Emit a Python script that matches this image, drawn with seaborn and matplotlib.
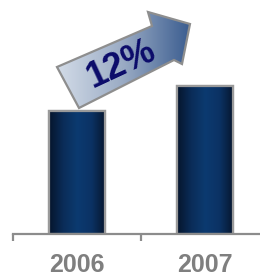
import numpy as np
import pandas as pd
import matplotlib
matplotlib.use("Agg")
import matplotlib.pyplot as plt
from matplotlib.colors import LinearSegmentedColormap
from matplotlib.patches import Polygon
import seaborn as sns

years = ["2006", "2007"]
values = [100, 120]
growth_label = "12%"

sns.set_theme(style="white")
plt.rcParams["font.family"] = ["Liberation Sans", "DejaVu Sans"]

W, H = 260, 276
fig = plt.figure(figsize=(W / 100, H / 100), dpi=100)
ax = fig.add_axes([13 / W, 42 / H, 256 / W, 234 / H])

df = pd.DataFrame({"year": years, "value": values})
sns.barplot(data=df, x="year", y="value", ax=ax, width=0.44,
            color="#0b3468", edgecolor="#9a9a9a", linewidth=1.6,
            saturation=1)

ax.set_xlim(-0.5, 1.5)
ax.set_ylim(0, 190)
ax.set_xlabel("")
ax.set_ylabel("")
ax.set_yticks([])
for s in ["left", "right", "top"]:
    ax.spines[s].set_visible(False)
ax.spines["bottom"].set_color("#8c8c8c")
ax.spines["bottom"].set_linewidth(1.6)

ax.set_xticks([0, 1])
ax.set_xticklabels(years)
ax.tick_params(axis="x", which="major", length=0, pad=14,
               labelsize=18, labelcolor="#7f7f7f")
for t in ax.get_xticklabels():
    t.set_fontweight("bold")
ax.set_xticks([-0.5, 0.5, 1.5], minor=True)
ax.tick_params(axis="x", which="minor", bottom=True, direction="out",
               length=5, width=1.6, color="#8c8c8c")

# gradient fill for bars
bar_cmap = LinearSegmentedColormap.from_list(
    "bar", ["#06152c", "#0a2c58", "#0c3a70", "#0b3264", "#06152c"])
grad = np.linspace(0, 1, 256).reshape(1, -1)
for p in list(ax.patches):
    x0, y0 = p.get_x(), p.get_y()
    w, h = p.get_width(), p.get_height()
    im = ax.imshow(grad, cmap=bar_cmap, aspect="auto",
                   extent=[x0, x0 + w, y0, y0 + h], zorder=p.get_zorder() + 0.1,
                   interpolation="bicubic")
    im.set_clip_path(p)
    edge = plt.Rectangle((x0, y0), w, h, fill=False, edgecolor="#9a9a9a",
                         linewidth=1.6, zorder=p.get_zorder() + 0.2)
    ax.add_patch(edge)
ax.set_xlim(-0.5, 1.5)
ax.set_ylim(0, 190)

# growth arrow (decoration, figure pixel coords, y down)
pts = [(57, 67), (152, 26), (148, 12), (190, 24), (182, 64), (174, 60), (79, 108)]
pts_fig = [(x / W, 1 - y / H) for x, y in pts]
arrow_cmap = LinearSegmentedColormap.from_list("arr", ["#d3dce8", "#9aabc4", "#3b5d90"])
gax = fig.add_axes([0, 0, 1, 1], zorder=5)
gax.set_xlim(0, 1)
gax.set_ylim(0, 1)
gax.axis("off")
gax.patch.set_alpha(0)
poly = Polygon(pts_fig, closed=True, facecolor="none", edgecolor="#8e8e8e",
               linewidth=1.6, joinstyle="miter", zorder=3)
gax.add_patch(poly)
xs = [p[0] for p in pts_fig]
im = gax.imshow(grad, cmap=arrow_cmap, aspect="auto",
                extent=[min(xs), max(xs), 0, 1], zorder=2, interpolation="bicubic")
im.set_clip_path(poly)
gax.text(121 / W, 1 - 64 / H, growth_label, rotation=25, ha="center", va="center",
         fontsize=26, fontweight="bold", color="#0b0b6a", zorder=4,
         rotation_mode="anchor")

fig.savefig("out.png", dpi=100)
